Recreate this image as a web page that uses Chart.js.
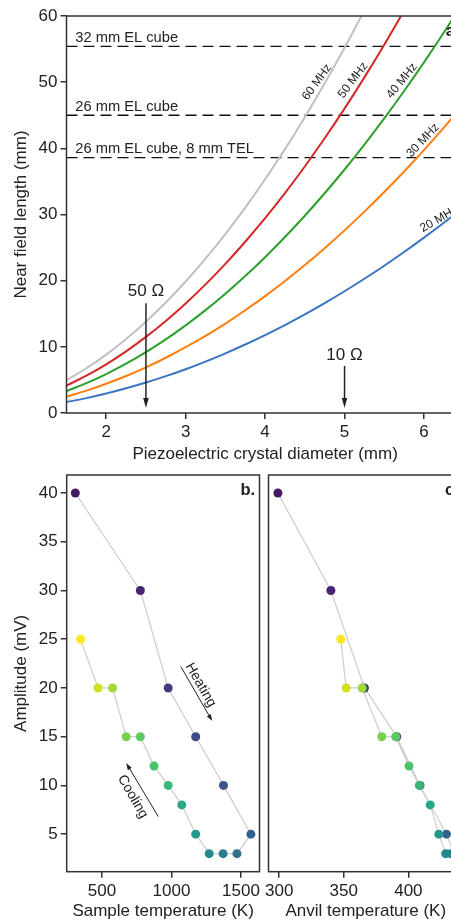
<!DOCTYPE html>
<html>
<head>
<meta charset="utf-8">
<script src="https://cdn.jsdelivr.net/npm/chart.js@4.4.1/dist/chart.umd.min.js"></script>
<style>
  html, body { margin: 0; padding: 0; background: #fff; }
  #wrap { position: relative; width: 451px; height: 921px; overflow: hidden; }
  canvas { position: absolute; }
  #chartA { left: 0; top: 0; }
  #chartB { left: 0; top: 465px; }
  #chartC { left: 264px; top: 465px; }
</style>
</head>
<body>
<div id="wrap">
  <canvas id="chartA" width="480" height="470"></canvas>
  <canvas id="chartB" width="264" height="456"></canvas>
  <canvas id="chartC" width="216" height="456"></canvas>
</div>
<script>
// -----------------------------
// Panel a: near field length vs crystal diameter
// -----------------------------
const diameter = [1.5, 1.75, 2, 2.25, 2.5, 2.75, 3, 3.25, 3.5, 3.75, 4, 4.25, 4.5, 4.75, 5, 5.25, 5.5, 5.75, 6, 6.25, 6.5];
const nfl20 = [1.66, 2.25, 2.94, 3.73, 4.6, 5.57, 6.62, 7.77, 9.02, 10.35, 11.78, 13.29, 14.9, 16.61, 18.4, 20.29, 22.26, 24.33, 26.5, 28.75, 31.1];
const nfl30 = [2.48, 3.38, 4.42, 5.59, 6.9, 8.35, 9.94, 11.66, 13.52, 15.53, 17.66, 19.94, 22.36, 24.91, 27.6, 30.43, 33.4, 36.5, 39.74, 43.13, 46.64];
const nfl40 = [3.31, 4.51, 5.89, 7.45, 9.2, 11.13, 13.25, 15.55, 18.03, 20.7, 23.55, 26.59, 29.81, 33.21, 36.8, 40.57, 44.53, 48.67, 52.99, 57.5, 62.19];
const nfl50 = [4.14, 5.64, 7.36, 9.32, 11.5, 13.92, 16.56, 19.44, 22.54, 25.88, 29.44, 33.24, 37.26, 41.52, 46.0, 50.72, 55.66, 60.84, 66.24, 71.88, 77.74];
const nfl60 = [4.97, 6.76, 8.83, 11.18, 13.8, 16.7, 19.87, 23.32, 27.05, 31.05, 35.33, 39.88, 44.71, 49.82, 55.2, 60.86, 66.79, 73.0, 79.49, 86.25, 93.29];
const freqNames = ["60 MHz", "50 MHz", "40 MHz", "30 MHz", "20 MHz"];
const refLevels = [55.4, 45, 38.6];
const refNames = ["32 mm EL cube", "26 mm EL cube", "26 mm EL cube, 8 mm TEL"];
const xTicksA = [2, 3, 4, 5, 6];
const yTicksA = [0, 10, 20, 30, 40, 50, 60];

// -----------------------------
// Panels b, c: amplitude vs temperature (heating then cooling)
// -----------------------------
const amplitude = [40, 30, 20, 15, 10, 5, 3, 3, 3, 5, 8, 10, 12, 15, 15, 20, 20, 25];
const sampleTemp = [308, 776, 976, 1174, 1374, 1571, 1471, 1371, 1271, 1174, 1074, 976, 874, 776, 674, 576, 471, 346];
const anvilTemp = [299, 340, 366, 391, 409, 429.5, 435.4, 432.8, 428.9, 423.6, 416.9, 408.5, 400.5, 390.2, 379.4, 364.2, 351.8, 347.7];
const xTicksB = [500, 1000, 1500];
const xTicksC = [300, 350, 400];
const yTicksB = [5, 10, 15, 20, 25, 30, 35, 40];

// styles
const curveColors = ["#c0c0c0", "#d62728", "#2ca02c", "#ff7f0e", "#3a75c4"];
const stepColors = ["#451a5f", "#46246f", "#443983", "#3f4889", "#3b528b", "#33638d", "#2d718e", "#287d8e",
  "#23898e", "#22978a", "#27a882", "#38b977", "#4cc26c", "#5ec962", "#7ad151", "#a0da39", "#d0e11c", "#fde725"];

const FONT = "'Liberation Sans', Arial, Helvetica, sans-serif";
Chart.defaults.font.family = FONT;
Chart.defaults.color = "#222";

function drawArrow(ctx, x1, y1, x2, y2, headLen, headW, lw) {
  const ang = Math.atan2(y2 - y1, x2 - x1);
  const bx = x2 - headLen * Math.cos(ang), by = y2 - headLen * Math.sin(ang);
  ctx.lineWidth = lw;
  ctx.beginPath(); ctx.moveTo(x1, y1); ctx.lineTo(bx, by); ctx.stroke();
  ctx.beginPath(); ctx.moveTo(x2, y2);
  ctx.lineTo(bx + headW / 2 * Math.sin(ang), by - headW / 2 * Math.cos(ang));
  ctx.lineTo(bx - headW / 2 * Math.sin(ang), by + headW / 2 * Math.cos(ang));
  ctx.closePath(); ctx.fill();
}

// frame, panel letter, text labels and arrows (placed in data units)
function makeOverlay(letter, texts, arrows) {
  return {
    id: "overlay" + letter,
    afterDatasetsDraw(chart) {
      const { ctx, chartArea: a, scales: { x, y } } = chart;
      ctx.save();
      ctx.strokeStyle = "#333";
      ctx.lineWidth = 1.5;
      ctx.strokeRect(a.left, a.top, a.right - a.left, a.bottom - a.top);
      ctx.fillStyle = "#222";
      ctx.strokeStyle = "#222";
      texts.forEach(t => {
        ctx.save();
        ctx.translate(x.getPixelForValue(t.x), y.getPixelForValue(t.y));
        ctx.rotate((t.angle || 0) * Math.PI / 180);
        ctx.font = t.size + "px " + FONT;
        ctx.textAlign = t.align || "center";
        ctx.textBaseline = t.baseline || "middle";
        ctx.fillText(t.text, 0, 0);
        ctx.restore();
      });
      arrows.forEach(r => {
        drawArrow(ctx, x.getPixelForValue(r.x1), y.getPixelForValue(r.y1),
          x.getPixelForValue(r.x2), y.getPixelForValue(r.y2), r.head, r.headW, r.lw);
      });
      ctx.font = "bold 16.5px " + FONT;
      ctx.textAlign = "right";
      ctx.textBaseline = "alphabetic";
      ctx.fillText(letter + ".", a.right - 4.3, a.top + 20);
      ctx.restore();
    }
  };
}

function fixedTicks(list) {
  return s => { s.ticks = list.map(v => ({ value: v })); };
}

// force the axis box size and drop the label overflow padding
function fitTo(w, h) {
  return s => {
    if (w !== null) s.width = w;
    if (h !== null) s.height = h;
    s.paddingLeft = 0; s.paddingRight = 0; s.paddingTop = 0; s.paddingBottom = 0;
  };
}

function axis(opts) {
  return Object.assign({
    type: "linear",
    grid: { drawOnChartArea: false, drawTicks: true, tickLength: 6, color: "#333", lineWidth: 1.5 },
    border: { display: false },
    ticks: { font: { size: 17 }, color: "#222", autoSkip: false, maxRotation: 0, callback: v => String(v) }
  }, opts);
}

// -----------------------------
// Chart a
// -----------------------------
const seriesA = [nfl60, nfl50, nfl40, nfl30, nfl20];
const datasetsA = seriesA.map((s, k) => ({
  label: freqNames[k],
  data: diameter.map((d, i) => ({ x: d, y: s[i] })),
  borderColor: curveColors[k],
  borderWidth: 2,
  pointRadius: 0,
  tension: 0.4
}));
refLevels.forEach((lvl, k) => {
  datasetsA.push({
    label: refNames[k],
    data: [{ x: 1.5, y: lvl }, { x: 6.5, y: lvl }],
    borderColor: "#111",
    borderWidth: 1.3,
    borderDash: [11, 6],
    pointRadius: 0
  });
});

const textsA = [
  { text: freqNames[0], x: 4.654, y: 50.0, angle: -54, size: 12 },
  { text: freqNames[1], x: 5.107, y: 50.3, angle: -53, size: 12 },
  { text: freqNames[2], x: 5.723, y: 50.2, angle: -51, size: 12 },
  { text: freqNames[3], x: 5.987, y: 41.2, angle: -47, size: 12 },
  { text: freqNames[4], x: 6.19, y: 29.3, angle: -30, size: 12 },
  { text: "50 Ω", x: 2.5, y: 18.4, size: 17 },
  { text: "10 Ω", x: 5, y: 8.7, size: 17 }
].concat(refLevels.map((lvl, k) => ({
  text: refNames[k], x: 1.61, y: lvl + 0.65, size: 14.7, align: "left", baseline: "alphabetic"
})));
const arrowsA = [
  { x1: 2.5, y1: 16.6, x2: 2.5, y2: 0.75, head: 10, headW: 5.5, lw: 1.5 },
  { x1: 5, y1: 7.1, x2: 5, y2: 0.75, head: 10, headW: 5.5, lw: 1.5 }
];

new Chart(document.getElementById("chartA"), {
  type: "line",
  data: { datasets: datasetsA },
  options: {
    responsive: false,
    animation: false,
    layout: { padding: { top: 16, right: 16.3, left: 0, bottom: 0 } },
    plugins: { legend: { display: false }, tooltip: { enabled: false } },
    scales: {
      x: axis({
        min: 1.5, max: 6.5,
        afterBuildTicks: fixedTicks(xTicksA),
        afterFit: fitTo(null, 57),
        title: { display: true, text: "Piezoelectric crystal diameter (mm)", color: "#222",
          font: { size: 17, lineHeight: 1 }, padding: { top: 0, bottom: 7 } }
      }),
      y: axis({
        min: 0, max: 60,
        afterBuildTicks: fixedTicks(yTicksA),
        afterFit: fitTo(66.5, null),
        title: { display: true, text: "Near field length (mm)", color: "#222",
          font: { size: 17, lineHeight: 1 }, padding: { top: 12.5, bottom: 0 } }
      })
    }
  },
  plugins: [makeOverlay("a", textsA, arrowsA)]
});

// -----------------------------
// Charts b and c
// -----------------------------
function ampDataset(temps) {
  return {
    data: temps.map((t, i) => ({ x: t, y: amplitude[i] })),
    showLine: true,
    borderColor: "#cfcfcf",
    borderWidth: 1.3,
    pointRadius: 4.5,
    pointBorderWidth: 0,
    pointBackgroundColor: stepColors,
    tension: 0
  };
}

const textsB = [
  { text: "Heating", x: 1210, y: 20.3, angle: 60, size: 14 },
  { text: "Cooling", x: 721, y: 8.85, angle: 60, size: 14 }
];
const arrowsB = [
  { x1: 1067, y1: 22.2, x2: 1293, y2: 16.6, head: 7, headW: 4.5, lw: 1 },
  { x1: 905, y1: 6.8, x2: 674, y2: 12.3, head: 7, headW: 4.5, lw: 1 }
];

new Chart(document.getElementById("chartB"), {
  type: "scatter",
  data: { datasets: [ampDataset(sampleTemp)] },
  options: {
    responsive: false,
    animation: false,
    layout: { padding: { top: 10, right: 3, left: 0, bottom: 0 } },
    plugins: { legend: { display: false }, tooltip: { enabled: false } },
    scales: {
      x: axis({
        min: 246, max: 1633,
        afterBuildTicks: fixedTicks(xTicksB),
        afterFit: fitTo(null, 49.3),
        title: { display: true, text: "Sample temperature (K)", color: "#222",
          font: { size: 17, lineHeight: 1 }, padding: { top: 0, bottom: 1 } }
      }),
      y: axis({
        min: 1.15, max: 41.85,
        afterBuildTicks: fixedTicks(yTicksB),
        afterFit: fitTo(66.7, null),
        title: { display: true, text: "Amplitude (mV)", color: "#222",
          font: { size: 17, lineHeight: 1 }, padding: { top: 12.5, bottom: 0 } }
      })
    }
  },
  plugins: [makeOverlay("b", textsB, arrowsB)]
});

new Chart(document.getElementById("chartC"), {
  type: "scatter",
  data: { datasets: [ampDataset(anvilTemp)] },
  options: {
    responsive: false,
    animation: false,
    layout: { padding: { top: 10, right: 17, left: 0, bottom: 0 } },
    plugins: { legend: { display: false }, tooltip: { enabled: false } },
    scales: {
      x: axis({
        min: 291.7, max: 442.3,
        afterBuildTicks: fixedTicks(xTicksC),
        afterFit: fitTo(null, 49.3),
        title: { display: true, text: "Anvil temperature (K)", color: "#222",
          font: { size: 17, lineHeight: 1 }, padding: { top: 0, bottom: 1 } }
      }),
      y: axis({
        min: 1.15, max: 41.85,
        afterBuildTicks: fixedTicks(yTicksB),
        afterFit: fitTo(4.3, null),
        grid: { drawOnChartArea: false, drawTicks: false },
        ticks: { display: false },
        title: { display: false }
      })
    }
  },
  plugins: [makeOverlay("c", [], [])]
});
</script>
</body>
</html>
